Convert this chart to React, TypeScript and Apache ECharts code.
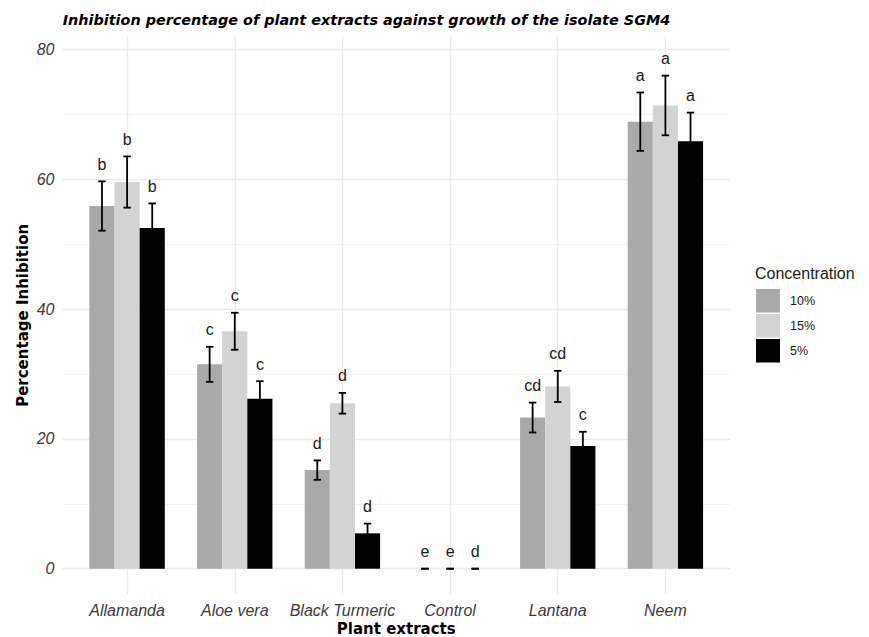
import React, { useEffect, useRef } from "react";
import * as echarts from "echarts";

const categories = ["Allamanda", "Aloe vera", "Black Turmeric", "Control", "Lantana", "Neem"];
const concentrations = ["10%", "15%", "5%"];
const mean10 = [55.9, 31.5, 15.2, 0, 23.3, 68.9];
const mean15 = [59.6, 36.6, 25.5, 0, 28.1, 71.4];
const mean5 = [52.5, 26.2, 5.45, 0, 18.9, 65.9];
const se10 = [3.8, 2.7, 1.5, 0, 2.3, 4.5];
const se15 = [3.95, 2.85, 1.6, 0, 2.4, 4.6];
const se5 = [3.8, 2.7, 1.5, 0, 2.2, 4.4];
const letters10 = ["b", "c", "d", "e", "cd", "a"];
const letters15 = ["b", "c", "d", "e", "cd", "a"];
const letters5 = ["b", "c", "d", "d", "c", "a"];
const colors = ["#A9A9A9", "#D3D3D3", "#000000"];

const REG = "'Liberation Sans', Arial, Helvetica, sans-serif";
const BOLD = "'DejaVu Sans', sans-serif";

export default function App() {
  const ref = useRef<HTMLDivElement>(null);
  useEffect(() => {
    if (!ref.current) return;
    const chart = echarts.init(ref.current, null, { renderer: "svg" });
    const means = [mean10, mean15, mean5];
    const ses = [se10, se15, se5];
    const letters = [letters10, letters15, letters5];
    const gridLeft = 62.5, gridRight = 730, gridTop = 36.7, gridBottom = 594;
    const unitPx = (gridRight - gridLeft) / 6.2;
    const dodge = 0.7 / 3;
    const barW = unitPx * dodge;

    const errData: number[][] = [];
    const errLetters: string[] = [];
    for (let j = 0; j < 3; j++) {
      for (let i = 0; i < categories.length; i++) {
        errData.push([i + (j - 1) * dodge, means[j][i], ses[j][i]]);
        errLetters.push(letters[j][i]);
      }
    }

    const barSeries = concentrations.map((c, j) => ({
      name: c,
      type: "bar",
      barWidth: barW,
      barGap: "0%",
      itemStyle: { color: colors[j] },
      data: means[j].map((v, i) => [i, v]),
      z: 2,
    }));

    chart.setOption({
      animation: false,
      grid: {
        left: gridLeft,
        right: 869 - gridRight,
        top: gridTop,
        bottom: 637 - gridBottom,
        containLabel: false,
      },
      xAxis: {
        type: "value",
        min: -0.6,
        max: 5.6,
        axisLine: { show: false },
        axisTick: { show: false },
        axisLabel: {
          showMinLabel: false,
          showMaxLabel: false,
          margin: 8,
          fontFamily: REG,
          fontStyle: "italic",
          fontSize: 16,
          color: "#3a3a3a",
          formatter: (v: number) => (Number.isInteger(v) && categories[v] !== undefined ? categories[v] : ""),
        },
        splitLine: { show: true, showMinLine: false, showMaxLine: false, lineStyle: { color: "#EBEBEB", width: 1.3 } },
      },
      yAxis: {
        type: "value",
        min: -3.9,
        max: 82,
        axisLine: { show: false },
        axisTick: { show: false },
        axisLabel: {
          showMinLabel: false,
          showMaxLabel: false,
          margin: 8,
          fontFamily: REG,
          fontStyle: "italic",
          fontSize: 16,
          color: "#3a3a3a",
        },
        splitLine: { show: true, showMinLine: false, showMaxLine: false, lineStyle: { color: "#EBEBEB", width: 1.3 } },
        minorTick: { show: false, splitNumber: 2 },
        minorSplitLine: { show: true, lineStyle: { color: "#F0F0F0", width: 0.8 } },
      },
      legend: {
        orient: "vertical",
        left: 756,
        top: 289,
        padding: 0,
        itemWidth: 24,
        itemHeight: 23.5,
        itemGap: 1.5,
        icon: "rect",
        selectedMode: false,
        data: concentrations,
        textStyle: { fontFamily: REG, fontSize: 12.5, color: "#1a1a1a", padding: [0, 0, 0, 5] },
      },
      graphic: [
        {
          type: "text",
          x: 62.7,
          y: 20,
          style: {
            text: "Inhibition percentage of plant extracts against growth of the isolate SGM4",
            fontFamily: BOLD,
            fontWeight: "bold",
            fontStyle: "italic",
            fontSize: 14.4,
            fill: "#000",
            align: "left",
            verticalAlign: "middle",
          },
        },
        {
          type: "text",
          x: (gridLeft + gridRight) / 2,
          y: 629,
          style: {
            text: "Plant extracts",
            fontFamily: BOLD,
            fontWeight: "bold",
            fontSize: 15,
            fill: "#000",
            align: "center",
            verticalAlign: "middle",
          },
        },
        {
          type: "text",
          x: 23,
          y: (gridTop + gridBottom) / 2,
          rotation: Math.PI / 2,
          style: {
            text: "Percentage Inhibition",
            fontFamily: BOLD,
            fontWeight: "bold",
            fontSize: 15,
            fill: "#000",
            align: "center",
            verticalAlign: "middle",
          },
        },
        {
          type: "text",
          x: 755,
          y: 273,
          style: {
            text: "Concentration",
            fontFamily: REG,
            fontSize: 16,
            fill: "#1a1a1a",
            align: "left",
            verticalAlign: "middle",
          },
        },
      ],
      series: [
        ...barSeries,
        {
          type: "custom",
          name: "errors",
          z: 5,
          clip: false,
          encode: { x: 0, y: 1 },
          data: errData,
          renderItem: (params: any, api: any) => {
            const x = api.value(0);
            const m = api.value(1);
            const s = api.value(2);
            const pTop = api.coord([x, m + s]);
            const pBot = api.coord([x, m - s]);
            const half = 3.7;
            const ls = { stroke: "#000", lineWidth: 1.8 };
            return {
              type: "group",
              children: [
                { type: "line", shape: { x1: pTop[0], y1: pTop[1], x2: pBot[0], y2: pBot[1] }, style: ls },
                { type: "line", shape: { x1: pTop[0] - half, y1: pTop[1], x2: pTop[0] + half, y2: pTop[1] }, style: ls },
                { type: "line", shape: { x1: pBot[0] - half, y1: pBot[1], x2: pBot[0] + half, y2: pBot[1] }, style: ls },
                {
                  type: "text",
                  x: pTop[0],
                  y: pTop[1] - 17,
                  style: {
                    text: errLetters[params.dataIndex],
                    fill: "#1a1a1a",
                    fontSize: 16,
                    fontFamily: REG,
                    align: "center",
                    verticalAlign: "middle",
                  },
                },
              ],
            };
          },
        },
      ],
    });
    return () => chart.dispose();
  }, []);
  return (
    <div
      ref={ref}
      style={{ position: "fixed", left: 0, top: 0, width: 869, height: 637, background: "#fff" }}
    />
  );
}
